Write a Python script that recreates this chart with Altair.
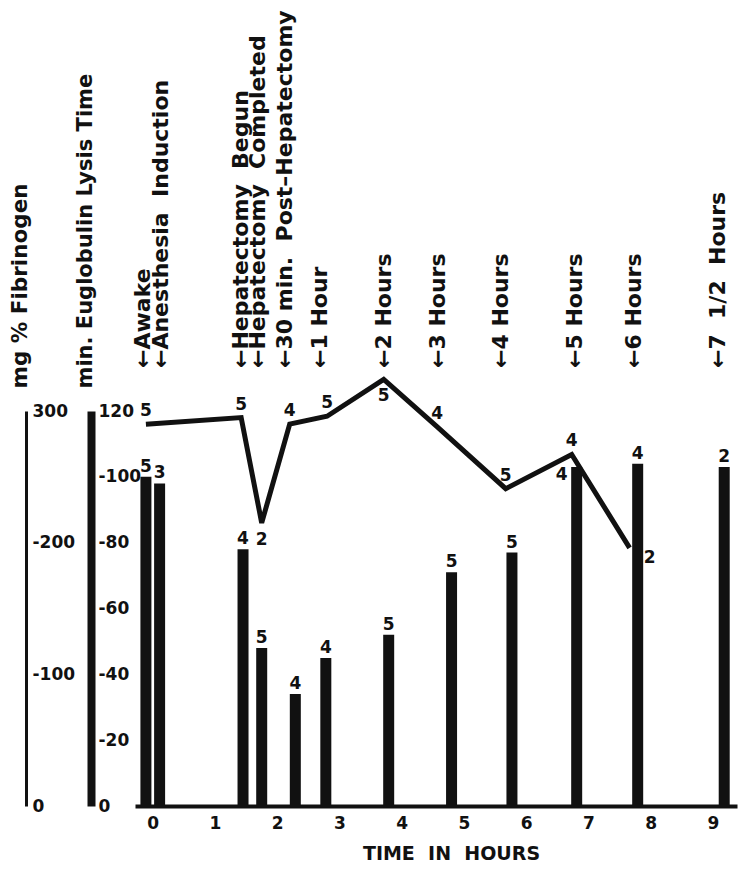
import altair as alt
import pandas as pd

NB = "\u00a0"  # keeps the wide word gaps of the original lettering

# ---- event annotations along the top (position of each arrow, in hours) ----
event_labels = ["Awake", "Anesthesia  Induction", "Hepatectomy  Begun", "Hepatectomy  Completed",
                "30 min.  Post–Hepatectomy", "1 Hour", "2 Hours", "3 Hours", "4 Hours",
                "5 Hours", "6 Hours", "7  1/2  Hours"]
event_hours = [-0.16, 0.14, 1.41, 1.69, 2.12, 2.69, 3.71, 4.58, 5.59, 6.78, 7.73, 9.08]

# ---- euglobulin lysis time (bars) ----
bar_events = ["Awake", "Anesthesia Induction", "Hepatectomy Begun", "Hepatectomy Completed",
              "30 min Post", "1 Hour", "2 Hours", "3 Hours", "4 Hours", "5 Hours", "6 Hours",
              "7 1/2 Hours"]
bar_hours = [-0.11, 0.11, 1.45, 1.75, 2.29, 2.78, 3.79, 4.80, 5.77, 6.81, 7.79, 9.18]
lysis_min = [100, 98, 78, 48, 34, 45, 52, 71, 77, 103, 104, 103]
lysis_n = [5, 3, 4, 5, 4, 4, 5, 5, 5, 4, 4, 2]

# ---- fibrinogen (line) ----
line_events = ["Awake", "Hepatectomy Begun", "Hepatectomy Completed", "30 min Post", "1 Hour",
               "2 Hours", "3 Hours", "4 Hours", "5 Hours", "6 Hours"]
line_hours = [-0.11, 1.42, 1.75, 2.20, 2.80, 3.71, 4.57, 5.67, 6.73, 7.66]
fibrinogen = [290, 295, 215, 290, 296, 324, 288, 241, 267, 196]
fib_n = [5, 5, 2, 4, 5, 5, 4, 5, 4, 2]

x_ticks = list(range(10))
lysis_ticks = [0, 20, 40, 60, 80, 100, 120]
fib_ticks = [0, 100, 200, 300]

bars_df = pd.DataFrame({"event": bar_events, "hours": bar_hours, "minutes": lysis_min, "n": lysis_n})
line_df = pd.DataFrame({"event": line_events, "hours": line_hours, "fibrinogen": fibrinogen, "n": fib_n})
events_df = pd.DataFrame({"label": ["←" + s.replace("  ", " " + NB) for s in event_labels],
                          "hours": event_hours})

FONT = "DejaVu Sans"
INK = "#111111"

x_scale = alt.Scale(domain=[-0.205, 9.305], nice=False, zero=False)
x_axis = alt.Axis(values=x_ticks, format="d", title="TIME" + NB + " IN" + NB + " HOURS",
                  ticks=False, tickSize=0,
                  grid=False, domainWidth=4, domainColor=INK, labelPadding=9, labelFontSize=17,
                  labelFont=FONT, labelFontWeight="bold", labelColor=INK, labelFlush=False,
                  titleFont=FONT, titleFontSize=19, titleFontWeight="bold", titleColor=INK,
                  titleX=316, titleY=47, titleAlign="center", titleBaseline="middle")
x_enc = alt.X("hours:Q", scale=x_scale, axis=x_axis)

lysis_axis = alt.Axis(orient="right", offset=-646, values=lysis_ticks, ticks=False, tickSize=0,
                      grid=False, domainWidth=8, domainColor=INK, labelPadding=7, labelAlign="left",
                      labelFontSize=17, labelFont=FONT, labelFontWeight="bold", labelColor=INK,
                      labelFlush=False, labelOverlap=False,
                      labelExpr="datum.value == 0 || datum.value == 120 ? datum.label : '-' + datum.label",
                      title="min. Euglobulin Lysis Time", titleAngle=270, titleX=-6, titleY=-23,
                      titleAlign="left", titleBaseline="middle", titleFont=FONT, titleFontSize=21,
                      titleFontWeight="bold", titleColor=INK)
fib_axis = alt.Axis(orient="right", offset=-711, values=fib_ticks, ticks=False, tickSize=0,
                    grid=False, domainWidth=3, domainColor=INK, labelPadding=6, labelAlign="left",
                    labelFontSize=17, labelFont=FONT, labelFontWeight="bold", labelColor=INK,
                    labelFlush=False, labelOverlap=False,
                    labelExpr="datum.value == 0 || datum.value == 300 ? datum.label : '-' + datum.label",
                    title="mg % Fibrinogen", titleAngle=270, titleX=-6, titleY=-23,
                    titleAlign="left", titleBaseline="middle", titleFont=FONT, titleFontSize=21.5,
                    titleFontWeight="bold", titleColor=INK)

lysis_y = alt.Y("minutes:Q", scale=alt.Scale(domain=[0, 120], nice=False), axis=lysis_axis)
fib_y = alt.Y("fibrinogen:Q", scale=alt.Scale(domain=[0, 300], nice=False), axis=fib_axis)

text_style = dict(font=FONT, fontSize=17, fontWeight="bold", color=INK, clip=False)

bars = alt.Chart(bars_df).mark_bar(color=INK, size=11, clip=False).encode(x=x_enc, y=lysis_y)
bar_left = ["5 Hours"]
bar_labels = alt.Chart(bars_df).transform_filter(
    ~alt.FieldOneOfPredicate(field="event", oneOf=bar_left)
).mark_text(dy=-10, baseline="middle", **text_style).encode(x=x_enc, y=lysis_y, text="n:N")
bar_labels_left = alt.Chart(bars_df).transform_filter(
    alt.FieldOneOfPredicate(field="event", oneOf=bar_left)
).mark_text(dx=-15, dy=8, baseline="middle", **text_style).encode(x=x_enc, y=lysis_y, text="n:N")
lysis_layer = alt.layer(bars, bar_labels, bar_labels_left)

line = alt.Chart(line_df).mark_line(color=INK, strokeWidth=5, strokeJoin="miter",
                                    strokeCap="butt", clip=False).encode(x=x_enc, y=fib_y)
line_below = ["Hepatectomy Completed", "2 Hours"]
line_right = ["6 Hours"]
line_labels_above = alt.Chart(line_df).transform_filter(
    ~alt.FieldOneOfPredicate(field="event", oneOf=line_below + line_right)
).mark_text(dy=-13, baseline="middle", **text_style).encode(x=x_enc, y=fib_y, text="n:N")
line_labels_below = alt.Chart(line_df).transform_filter(
    alt.FieldOneOfPredicate(field="event", oneOf=line_below)
).mark_text(dy=17, baseline="middle", **text_style).encode(x=x_enc, y=fib_y, text="n:N")
line_labels_right = alt.Chart(line_df).transform_filter(
    alt.FieldOneOfPredicate(field="event", oneOf=line_right)
).mark_text(dx=20, dy=10, baseline="middle", **text_style).encode(x=x_enc, y=fib_y, text="n:N")
fib_layer = alt.layer(line, line_labels_above, line_labels_below, line_labels_right)

events = alt.Chart(events_df).mark_text(
    angle=270, align="left", baseline="middle", font=FONT, fontSize=22, fontWeight="bold",
    color=INK, clip=False
).encode(x=x_enc, y=alt.value(-43), text="label:N")

chart = alt.layer(lysis_layer, fib_layer, events).resolve_scale(y="independent").properties(
    width=602, height=395,
    autosize=alt.AutoSizeParams(type="none"),
    padding={"left": 127, "top": 403, "right": 5, "bottom": 60},
    background="white",
).configure_view(stroke=None)

chart.save("out.html", embed_options={"renderer": "svg", "actions": False})
